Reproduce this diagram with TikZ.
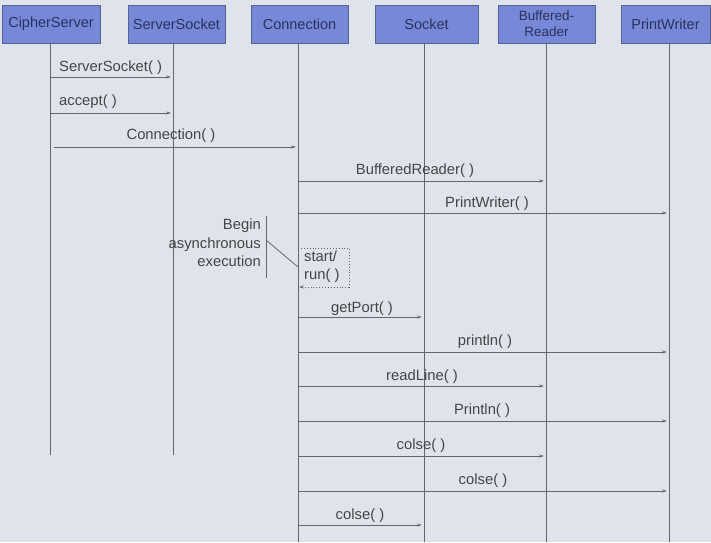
\documentclass[tikz,border=0pt]{standalone}
\usepackage{fontspec}
\setmainfont{Liberation Sans}
\usetikzlibrary{arrows.meta}
\definecolor{bg}{HTML}{DFE3EB}
\definecolor{boxfill}{HTML}{7888D8}
\definecolor{boxline}{HTML}{56638E}
\definecolor{ink}{HTML}{454545}
\definecolor{boxink}{HTML}{28325C}
\definecolor{wire}{HTML}{62666E}
\tikzset{
  cls/.style={draw=boxline, line width=0.8pt, fill=boxfill, text=boxink, minimum height=38pt,
    inner sep=1pt, align=center, font=\fontsize{14.5}{14}\selectfont},
  life/.style={draw=wire, line width=0.9pt},
  msg/.style={draw=wire, line width=0.9pt, -{Stealth[length=5pt,width=3pt]}, shorten >=2pt},
  lbl/.style={text=ink, inner sep=0pt, anchor=base, font=\fontsize{14.8}{18.5}\selectfont},
}
\begin{document}
\begin{tikzpicture}[x=1pt,y=-1pt]
\fill[bg] (0,0) rectangle (711,542);
\useasboundingbox (0,0) rectangle (711,542);

% class boxes
\node[cls, minimum width=98pt] (cs) at (51,24) {CipherServer};
\node[cls, minimum width=97pt] (ss) at (176.5,24) {ServerSocket};
\node[cls, minimum width=97pt] (cn) at (299.5,24) {Connection};
\node[cls, minimum width=103pt] (so) at (426.5,24) {Socket};
\node[cls, minimum width=97pt, font=\fontsize{13.5}{16}\selectfont] (br) at (546.5,24) {Buffered-\\Reader};
\node[cls, minimum width=89pt] (pw) at (665.5,24) {PrintWriter};

% lifelines
\coordinate (Lcs) at (50,43);  \coordinate (Ecs) at (50,455);
\coordinate (Lss) at (173,43); \coordinate (Ess) at (173,455);
\coordinate (Lcn) at (298,43); \coordinate (Ecn) at (298,542);
\coordinate (Lso) at (424,43); \coordinate (Eso) at (424,542);
\coordinate (Lbr) at (546,43); \coordinate (Ebr) at (546,542);
\coordinate (Lpw) at (669,43); \coordinate (Epw) at (669,542);
\foreach \a/\b in {Lcs/Ecs,Lss/Ess,Lcn/Ecn,Lso/Eso,Lbr/Ebr,Lpw/Epw}
  \draw[life] (\a) -- (\b);

% messages
\draw[msg] (Lcs|-0,77) -- (Lss|-0,77);
\node[lbl, anchor=base west] (m1) at (59,71) {ServerSocket( )};
\draw[msg] (Lcs|-0,113) -- (Lss|-0,113);
\node[lbl, anchor=base west] (m2) at (59,105) {accept( )};
\draw[msg] ([xshift=4pt]Lcs|-0,147) -- (Lcn|-0,147);
\node[lbl] (m3) at (171,139) {Connection( )};
\draw[msg] (Lcn|-0,181) -- (Lbr|-0,181);
\node[lbl] (m4) at (415,174) {BufferedReader( )};
\draw[msg] (Lcn|-0,213) -- (Lpw|-0,213);
\node[lbl] (m5) at (487,207) {PrintWriter( )};

% asynchronous execution note
\node[lbl, align=right, anchor=east] (note) at (261,243) {Begin\\asynchronous\\execution};
\coordinate (nb1) at (266,216);
\coordinate (nb2) at (266,278);
\draw[life, line width=0.8pt] (nb1) -- (nb2);
\draw[life, line width=0.8pt] (266,240) -- (Lcn|-0,267);
\coordinate (sr1) at (349,248);
\coordinate (sr2) at (349,287);
\draw[draw=wire, line width=0.9pt, dotted, -{Stealth[length=5pt,width=3pt]}, shorten >=1pt]
  (Lcn|-sr1) -- (sr1) -- (sr2) -- (Lcn|-sr2);
\node[lbl, align=left, anchor=north west, font=\fontsize{14.8}{18}\selectfont] (sr) at (304,251) {start/\\run( )};

\draw[msg] (Lcn|-0,317) -- (Lso|-0,317);
\node[lbl] (m6) at (362,312) {getPort( )};
\draw[msg] (Lcn|-0,352) -- (Lpw|-0,352);
\node[lbl] (m7) at (485,345) {println( )};
\draw[msg] (Lcn|-0,386) -- (Lbr|-0,386);
\node[lbl] (m8) at (422,380) {readLine( )};
\draw[msg] (Lcn|-0,421) -- (Lpw|-0,421);
\node[lbl] (m9) at (482,414) {Println( )};
\draw[msg] (Lcn|-0,456) -- (Lbr|-0,456);
\node[lbl] (m10) at (421,449) {colse( )};
\draw[msg] (Lcn|-0,491) -- (Lpw|-0,491);
\node[lbl] (m11) at (483,484) {colse( )};
\draw[msg] (Lcn|-0,525) -- (Lso|-0,525);
\node[lbl] (m12) at (360,519) {colse( )};
\end{tikzpicture}
\end{document}
